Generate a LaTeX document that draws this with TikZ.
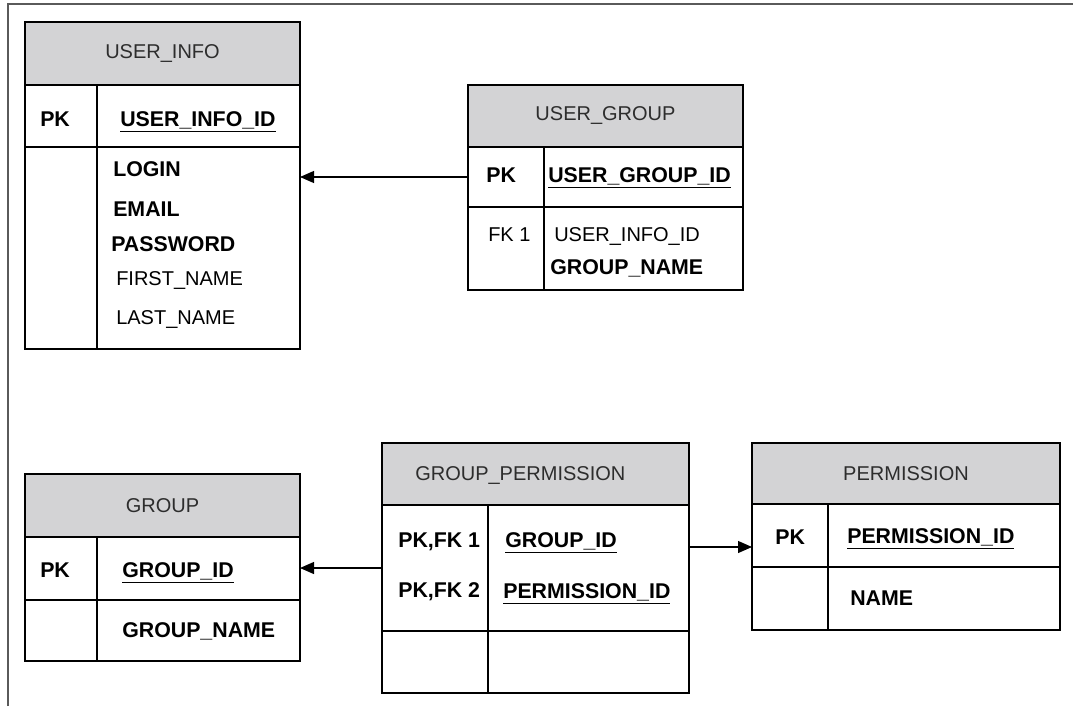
\documentclass[tikz,border=0pt]{standalone}
\usepackage{fontspec}
\setmainfont{Liberation Sans}
\usepackage{tikz}
\usetikzlibrary{positioning,arrows.meta}

\definecolor{hdrgray}{RGB}{211,211,213}
\definecolor{titlegray}{RGB}{45,45,45}
\definecolor{framegray}{RGB}{90,90,90}

\begin{document}
\begin{tikzpicture}[x=0.75pt,y=0.75pt,yscale=-1,xscale=1,
    tbl/.style={draw=black, line width=1.1pt, inner sep=0pt, outer sep=0pt, anchor=north west},
    hdr/.style={tbl, fill=hdrgray, text=titlegray, font=\fontsize{15}{18}\selectfont},
    txt/.style={inner sep=0pt, anchor=west, text height=10.7pt, text depth=0pt, font=\fontsize{15}{18}\selectfont},
    key/.style={txt, text height=11.4pt, font=\fontsize{16}{19}\selectfont\bfseries},
    divider/.style={line width=1.1pt},
    arr/.style={line width=0.9pt, -{Triangle[length=10.5pt,width=9pt]}}]
    \useasboundingbox (0,0) rectangle (1073,706);

    %Straight Lines [frame]
    \draw [framegray, line width=1pt] (8,706) -- (8,4) -- (1073,4) ;

    %Shape: Table [USER_INFO]
    \node [hdr, minimum width=206.25pt, minimum height=47.25pt] (uihead) at (25,22) {USER\_INFO};
    \node [tbl, minimum width=206.25pt, minimum height=46.5pt, below=0pt of uihead] (uipk) {};
    \node [tbl, minimum width=206.25pt, minimum height=151.5pt, below=0pt of uipk] (uibody) {};
    \draw [divider] (97,85) -- (97,349) ;

    % Text Node
    \node [key] (uipktag) at (40,119) {PK};
    \node [key] (uiid) at (120,119) {\underline{USER\_INFO\_ID}};
    \node [key] (uilogin) at (113,169) {LOGIN};
    \node [key] (uiemail) at (113,209) {EMAIL};
    \node [key] (uipass) at (111,244) {PASSWORD};
    \node [txt] (uifirst) at (116,278) {FIRST\_NAME};
    \node [txt] (uilast) at (116,317) {LAST\_NAME};

    %Shape: Table [USER_GROUP]
    \node [hdr, minimum width=206.25pt, minimum height=46.5pt] (ughead) at (468,85) {USER\_GROUP};
    \node [tbl, minimum width=206.25pt, minimum height=45pt, below=0pt of ughead] (ugpk) {};
    \node [tbl, minimum width=206.25pt, minimum height=62.25pt, below=0pt of ugpk] (ugbody) {};
    \draw [divider] (544,147) -- (544,290) ;

    % Text Node
    \node [key] (ugpktag) at (486,175) {PK};
    \node [key] (ugid) at (548,175) {\underline{USER\_GROUP\_ID}};
    \node [txt] (ugfk) at (488,234) {FK 1};
    \node [txt] (ugfkid) at (554,234) {USER\_INFO\_ID};
    \node [key] (ugname) at (550,267) {GROUP\_NAME};

    %Shape: Table [GROUP]
    \node [hdr, minimum width=206.25pt, minimum height=47.25pt] (ghead) at (25,474) {GROUP};
    \node [tbl, minimum width=206.25pt, minimum height=47.25pt, below=0pt of ghead] (gpk) {};
    \node [tbl, minimum width=206.25pt, minimum height=45.75pt, below=0pt of gpk] (gbody) {};
    \draw [divider] (97,537) -- (97,661) ;

    % Text Node
    \node [key] (gpktag) at (40,570) {PK};
    \node [key] (gid) at (122,570) {\underline{GROUP\_ID}};
    \node [key] (gname) at (122,630) {GROUP\_NAME};

    %Shape: Table [GROUP_PERMISSION]
    \node [hdr, minimum width=230.25pt, minimum height=46.5pt] (gphead) at (382,443) {};
    \node [tbl, minimum width=230.25pt, minimum height=94.5pt, below=0pt of gphead] (gpbody) {};
    \node [tbl, minimum width=230.25pt, minimum height=46.5pt, below=0pt of gpbody] (gpfoot) {};
    \draw [divider] (488,505) -- (488,693) ;

    % Text Node
    \node [txt, text=titlegray] (gptitle) at (415,473) {GROUP\_PERMISSION};
    \node [key] (gpfka) at (398,540) {PK,FK 1};
    \node [key] (gpfkb) at (398,590) {PK,FK 2};
    \node [key] (gpgid) at (505,540) {\underline{GROUP\_ID}};
    \node [key] (gppid) at (503,591) {\underline{PERMISSION\_ID}};

    %Shape: Table [PERMISSION]
    \node [hdr, minimum width=231pt, minimum height=45.75pt] (pmhead) at (752,443) {PERMISSION};
    \node [tbl, minimum width=231pt, minimum height=47.25pt, below=0pt of pmhead] (pmpk) {};
    \node [tbl, minimum width=231pt, minimum height=47.25pt, below=0pt of pmpk] (pmbody) {};
    \draw [divider] (828,504) -- (828,630) ;

    % Text Node
    \node [key] (pmpktag) at (775,537) {PK};
    \node [key] (pmid) at (847,536) {\underline{PERMISSION\_ID}};
    \node [key] (pmname) at (850,598) {NAME};

    %Straight Lines [references]
    \draw [arr] (ugpk.west) -- (ugpk.west -| uibody.east) ;
    \draw [arr] (gpbody.west) -- (gpbody.west -| gpk.east) ;
    \draw [arr] ([yshift=-15.75pt]gpbody.east) -- ([yshift=-15.75pt]gpbody.east -| pmpk.west) ;

\end{tikzpicture}
\end{document}
